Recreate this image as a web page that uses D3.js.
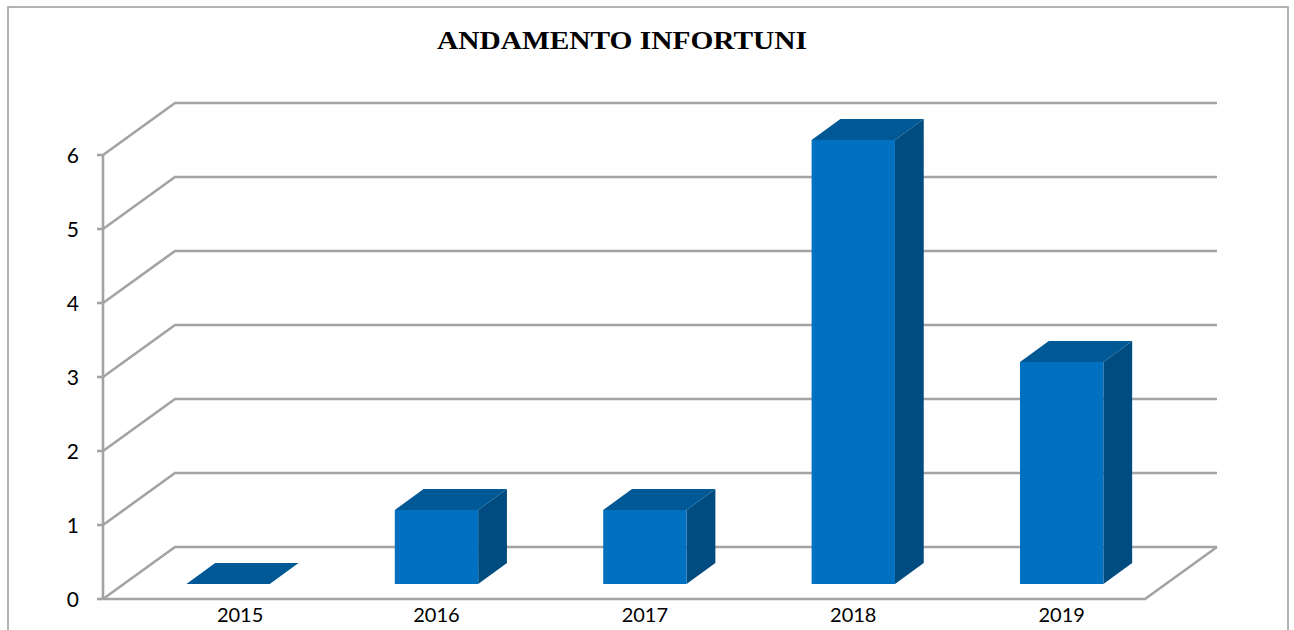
<!DOCTYPE html>
<html>
<head>
<meta charset="utf-8">
<script src="https://cdn.jsdelivr.net/npm/d3@7"></script>
<style>
  body { margin: 0; background: #fff; }
  svg { display: block; }
</style>
</head>
<body>
<svg class="displayContext" width="1294" height="630"></svg>
<script>

var years  = ["2015", "2016", "2017", "2018", "2019"];
var values = [0, 1, 1, 6, 3];
var yTicks = [0, 1, 2, 3, 4, 5, 6];
var title  = "ANDAMENTO INFORTUNI";

function drawChart(){

  var svg = d3.select(".displayContext");

  // depth of the 3d box (floor / back wall offset)
  var depthX = 72, depthY = -52;
  var barFront = 0.29, barBack = 0.69;

  var scaleX = d3.scaleBand()
                .domain(years)
                .range([103, 1145])
                .paddingInner(0.6)
                .paddingOuter(0.3);

  var scaleY = d3.scaleLinear()
                .domain([0, 6])
                .range([599, 155]);

  // projection: value v at x, at depth d (0 = front, 1 = back wall)
  function px(x, d){ return x + d * depthX; }
  function py(v, d){ return scaleY(v) + d * depthY; }

  // outer border
  svg.append("rect")
    .attr("x", 8).attr("y", 7)
    .attr("width", 1280).attr("height", 640)
    .attr("fill", "none")
    .attr("stroke", "#9a9a9a")
    .attr("stroke-width", 1.5);

  svg.append("text")
    .attr("x", 622).attr("y", 49)
    .attr("text-anchor", "middle")
    .attr("textLength", 370)
    .attr("lengthAdjust", "spacingAndGlyphs")
    .style("font-family", "'Liberation Serif', 'Times New Roman', serif")
    .style("font-weight", "bold")
    .style("font-size", "26px")
    .text(title);

  var grid = svg.append("g")
    .attr("stroke", "#a3a3a3")
    .attr("stroke-width", 2.6)
    .attr("fill", "none");

  var x0 = scaleX.range()[0], x1 = scaleX.range()[1];

  // back wall lines + left wall diagonals
  yTicks.forEach(function(v){
    grid.append("path")
      .attr("d", d3.line()([[px(x0, 0), py(v, 0)], [px(x0, 1), py(v, 1)], [px(x1, 1), py(v, 1)]]));
  });

  // floor front edge and right edge
  grid.append("path")
    .attr("d", d3.line()([[px(x0, 0), py(0, 0)], [px(x1, 0), py(0, 0)], [px(x1, 1), py(0, 1)]]));

  // vertical axis
  grid.append("line")
    .attr("x1", x0).attr("x2", x0)
    .attr("y1", scaleY(0)).attr("y2", scaleY(6));

  // ticks
  yTicks.forEach(function(v){
    grid.append("line")
      .attr("x1", x0 - 6).attr("x2", x0)
      .attr("y1", scaleY(v)).attr("y2", scaleY(v));
  });

  svg.append("g").selectAll("text")
    .data(yTicks)
    .join("text")
    .attr("x", 79)
    .attr("y", function(d){ return scaleY(d) + 7.5; })
    .attr("text-anchor", "end")
    .style("font-family", "Lato, 'Open Sans', sans-serif")
    .style("font-size", "21px")
    .text(function(d){ return d; });

  // bars
  var bars = svg.append("g");
  years.forEach(function(yr, i){
    var v = values[i];
    var xl = scaleX(yr), xr = scaleX(yr) + scaleX.bandwidth();
    var g = bars.append("g");

    var top = [[px(xl, barFront), py(v, barFront)], [px(xr, barFront), py(v, barFront)],
               [px(xr, barBack), py(v, barBack)], [px(xl, barBack), py(v, barBack)]];
    var side = [[px(xr, barFront), py(0, barFront)], [px(xr, barBack), py(0, barBack)],
                [px(xr, barBack), py(v, barBack)], [px(xr, barFront), py(v, barFront)]];
    var front = [[px(xl, barFront), py(0, barFront)], [px(xr, barFront), py(0, barFront)],
                 [px(xr, barFront), py(v, barFront)], [px(xl, barFront), py(v, barFront)]];

    if (v > 0) {
      g.append("path").attr("d", d3.line()(side) + "Z").attr("fill", "#004b80");
      g.append("path").attr("d", d3.line()(front) + "Z").attr("fill", "#0070c0");
    }
    g.append("path").attr("d", d3.line()(top) + "Z").attr("fill", "#005895");
  });

  // category labels (first one is pushed right, away from the axis)
  svg.append("g").selectAll("text")
    .data(years)
    .join("text")
    .attr("x", function(d, i){ return px(scaleX(d) + scaleX.bandwidth() / 2, barFront) + (i === 0 ? 12 : 0); })
    .attr("y", 622)
    .attr("text-anchor", "middle")
    .style("font-family", "Lato, 'Open Sans', sans-serif")
    .style("font-size", "20px")
    .text(function(d){ return d; });
}

drawChart();
</script>
</body>
</html>
